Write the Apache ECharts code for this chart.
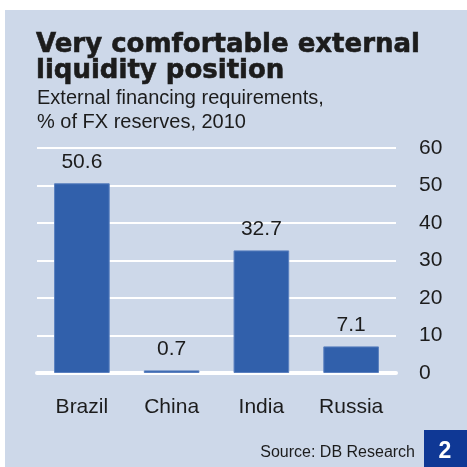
<!DOCTYPE html>
<html>
<head>
<meta charset="utf-8">
<script src="https://cdn.jsdelivr.net/npm/echarts@6/dist/echarts.min.js"></script>
<style>
  html, body { margin: 0; padding: 0; background: #ffffff; }
  #chart { width: 467px; height: 467px; }
</style>
</head>
<body>
<div id="chart"></div>
<script>
// External financing requirements as % of FX reserves, 2010
const countries = ['Brazil', 'China', 'India', 'Russia'];
const requirements = [50.6, 0.7, 32.7, 7.1];
const yTicks = { min: 0, max: 60, interval: 10 };

const titleText = 'Very comfortable external\nliquidity position';
const subtitleText = 'External financing requirements,\n% of FX reserves, 2010';
const sourceText = 'Source: DB Research';
const chartNumber = '2';

const panelColor = '#cdd8e9';
const barColor = '#3160ab';
const textColor = '#1c1c1c';
const sans = '"Liberation Sans", Arial, sans-serif';

const chart = echarts.init(document.getElementById('chart'), null, { renderer: 'canvas' });

chart.setOption({
  backgroundColor: '#ffffff',
  animation: false,
  graphic: [
    { type: 'rect', z: -10, shape: { x: 5, y: 10, width: 462, height: 457 }, style: { fill: panelColor } },
    { type: 'rect', z: 5, shape: { x: 424, y: 430, width: 43, height: 37 }, style: { fill: '#0f3895' } },
    { type: 'text', z: 6, x: 445, y: 452, style: { text: chartNumber, fill: '#ffffff', font: 'bold 23px ' + sans, align: 'center', verticalAlign: 'middle' } },
    { type: 'text', z: 6, x: 415, y: 453, style: { text: sourceText, fill: textColor, font: '16px ' + sans, align: 'right', verticalAlign: 'middle' } }
  ],
  title: [
    {
      text: titleText,
      left: 36, top: 32, padding: 0,
      textStyle: {
        fontFamily: 'DejaVu Sans', fontWeight: 'bold', fontSize: 26, lineHeight: 26, color: textColor,
        textBorderColor: textColor, textBorderWidth: 0.6
      }
    },
    {
      text: subtitleText,
      left: 37, top: 86, padding: 0,
      textStyle: { fontFamily: sans, fontWeight: 'normal', fontSize: 20, lineHeight: 24, color: textColor }
    }
  ],
  grid: { left: 37, right: 71, top: 148, bottom: 94, containLabel: false },
  xAxis: {
    type: 'category',
    data: countries,
    axisLine: { show: true, lineStyle: { color: '#ffffff', width: 4 } },
    axisTick: { show: false },
    axisLabel: { color: textColor, fontSize: 21, fontFamily: sans, margin: 24 }
  },
  yAxis: {
    type: 'value',
    position: 'right',
    min: yTicks.min, max: yTicks.max, interval: yTicks.interval,
    axisLine: { show: false },
    axisTick: { show: false },
    splitLine: { show: true, lineStyle: { color: '#ffffff', width: 2 } },
    axisLabel: { color: textColor, fontSize: 21, fontFamily: sans, margin: 23, align: 'left' }
  },
  series: [{
    type: 'bar',
    data: requirements,
    barWidth: '62%',
    itemStyle: { color: barColor, borderColor: '#5b80bf', borderWidth: 1 },
    label: {
      show: true, position: 'top', distance: 11,
      color: textColor, fontSize: 21, fontFamily: sans,
      formatter: p => p.value.toFixed(1)
    }
  }]
});
</script>
</body>
</html>
